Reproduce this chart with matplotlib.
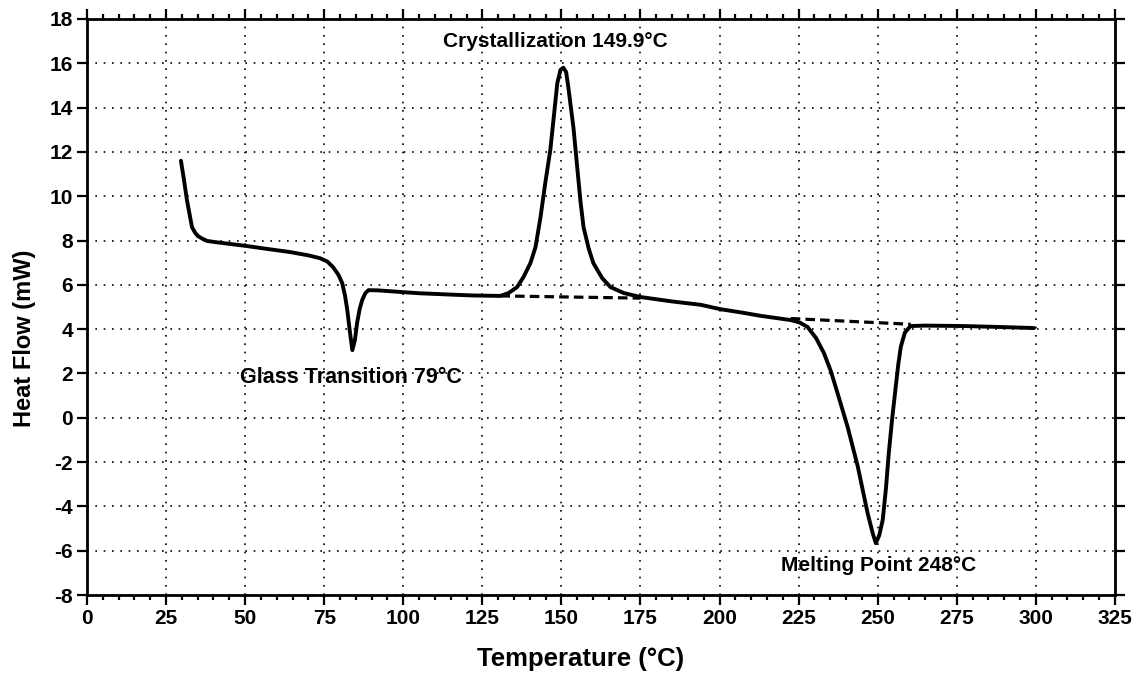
import numpy as np
import matplotlib.pyplot as plt
from matplotlib.ticker import MultipleLocator

plt.rcParams['font.family'] = ['Liberation Sans', 'DejaVu Sans']
plt.rcParams['font.weight'] = 'bold'
plt.rcParams['axes.unicode_minus'] = False

# DSC trace
temp = [29.7, 30.6, 31.6, 32.6, 33.2, 34.2, 35.1, 36.5, 38.0, 41.0, 45.0, 50.6,
        57.0, 64.2, 70.0, 73.7, 76.0, 77.8, 79.5, 80.7, 81.6, 82.3, 83.1, 83.9,
        84.7, 85.4, 86.2, 87.0, 88.0, 89.0, 92.0, 99.0, 105.0, 111.7, 114.9,
        122.0, 130.7, 133.3, 136.0, 138.0, 140.2, 141.8, 143.4, 144.9, 146.5,
        147.6, 148.7, 149.7, 150.6, 151.5, 152.2, 153.8, 155.0, 156.0, 157.0,
        158.6, 160.1, 162.9, 165.5, 169.7, 175.0, 185.0, 194.0, 200.3, 207.0,
        213.0, 218.0, 222.5, 225.3, 227.8, 230.5, 233.0, 235.2, 237.3, 240.5,
        243.7, 246.8, 248.4, 249.4, 250.5, 251.6, 252.6, 253.5, 254.6, 255.7,
        256.5, 257.3, 258.6, 260.4, 265.0, 277.2, 288.0, 299.4]
heat = [11.6, 10.8, 9.83, 9.06, 8.6, 8.35, 8.2, 8.08, 7.98, 7.92, 7.85, 7.75,
        7.62, 7.48, 7.33, 7.2, 7.05, 6.8, 6.45, 6.08, 5.5, 4.86, 3.9, 3.05,
        3.5, 4.28, 4.9, 5.31, 5.62, 5.76, 5.75, 5.68, 5.62, 5.58, 5.56,
        5.52, 5.5, 5.63, 5.9, 6.35, 6.98, 7.7, 9.06, 10.6, 12.1,
        13.6, 15.1, 15.7, 15.8, 15.6, 14.9, 13.1, 11.3, 9.8, 8.6,
        7.65, 6.98, 6.3, 5.9, 5.63, 5.45, 5.25, 5.1, 4.9, 4.75,
        4.6, 4.5, 4.41, 4.3, 4.1, 3.6, 2.92, 2.1, 1.11, -0.42,
        -2.2, -4.3, -5.2, -5.66, -5.3, -4.6, -3.2, -1.6, 0.0, 1.4,
        2.4, 3.2, 3.85, 4.14, 4.16, 4.14, 4.1, 4.05]

# extrapolated baselines under the two transitions
base1_t = [130.7, 175.0]
base1_h = [5.5, 5.4]
base2_t = [222.5, 260.4]
base2_h = [4.48, 4.22]

fig = plt.figure(figsize=(11.4, 6.75), dpi=100)
ax = fig.add_axes([0.0763, 0.1185, 0.9017, 0.8534])

ax.plot(temp, heat, color='black', lw=2.8, solid_joinstyle='round',
        solid_capstyle='round', zorder=3)
ax.plot(base1_t, base1_h, color='black', lw=2.3, ls=(0, (3, 1.6)), zorder=2)
ax.plot(base2_t, base2_h, color='black', lw=2.3, ls=(0, (3, 1.6)), zorder=2)

ax.set_xlim(0, 325)
ax.set_ylim(-8, 18)
ax.xaxis.set_major_locator(MultipleLocator(25))
ax.xaxis.set_minor_locator(MultipleLocator(5))
ax.yaxis.set_major_locator(MultipleLocator(2))

ax.grid(True, which='major', color='black', ls=(0, (1, 4)), lw=1.2)
for s in ax.spines.values():
    s.set_linewidth(2.0)
ax.tick_params(which='both', direction='out', top=True, right=True,
               labelsize=15, width=1.6, pad=3)
ax.tick_params(which='major', length=7)
ax.tick_params(which='minor', length=3.5)
for lab in ax.get_xticklabels() + ax.get_yticklabels():
    lab.set_fontweight('bold')

ax.set_xlabel('Temperature (°C)', fontsize=18.5, fontweight='bold', va='center')
ax.xaxis.set_label_coords(0.4805, -0.111)
ax.set_ylabel('Heat Flow (mW)', fontsize=17, fontweight='bold', va='center')
ax.yaxis.set_label_coords(-0.061, 0.446)

# transition labels
ax.text(112.7, 17.0, 'Crystallization 149.9°C', ha='left', va='center',
        fontsize=15, fontweight='bold')
ax.text(48.4, 1.84, 'Glass Transition 79°C', ha='left', va='center',
        fontsize=15.5, fontweight='bold')
ax.text(219.3, -6.65, 'Melting Point 248°C', ha='left', va='center',
        fontsize=15, fontweight='bold')

fig.savefig('out.png', dpi=100)
